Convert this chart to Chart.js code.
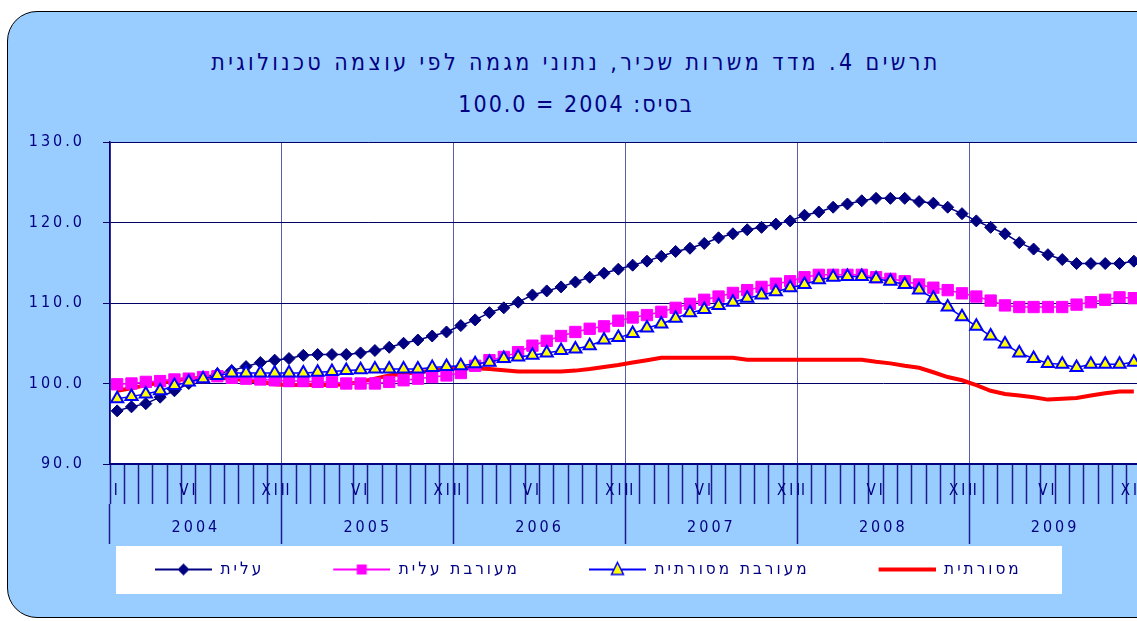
<!DOCTYPE html>
<html lang="he">
<head>
<meta charset="utf-8">
<script src="https://cdn.jsdelivr.net/npm/chart.js@4.4.1/dist/chart.umd.min.js"></script>
<style>
  html, body { margin: 0; padding: 0; background: #fff; overflow: hidden; }
  body { width: 1137px; height: 621px; position: relative; }
  .frame {
    position: absolute; left: 7px; top: 11px; width: 1170px; height: 605px;
    border: 1.5px solid #000; border-radius: 30px; background: #99ccff;
  }
  .title {
    position: absolute; left: 0; width: 1152px; text-align: center; direction: rtl;
    color: #000080; font-family: "Liberation Sans Narrow", "DejaVu Sans Condensed", "Liberation Sans", sans-serif;
    font-size: 23px; line-height: 30px; letter-spacing: 3.4px; white-space: nowrap;
  }
  #chart { position: absolute; left: 0; top: 0; }
</style>
</head>
<body>
<div class="frame"></div>
<div class="title" style="top:47px">תרשים 4. מדד משרות שכיר, נתוני מגמה לפי עוצמה טכנולוגית</div>
<div class="title" style="top:89px; letter-spacing:2px">בסיס: 2004 = 100.0</div>
<canvas id="chart" width="1150" height="621"></canvas>
<script>
const FONT = '"Liberation Sans Narrow", "DejaVu Sans Condensed", "Liberation Sans", sans-serif';
const NAVY = '#000080';

// categories
const years = ['2004', '2005', '2006', '2007', '2008', '2009'];
const monthNames = ['I', '', '', '', '', 'VI', '', '', '', '', '', 'XII'];
const seriesNames = ['עלית', 'מעורבת עלית', 'מעורבת מסורתית', 'מסורתית'];

// monthly values, 2004-2009 (one row per year)
const elite = [
  96.6, 97.1, 97.5, 98.3, 99.1, 100.0, 100.8, 101.2, 101.6, 102.1, 102.6, 102.9,
  103.1, 103.5, 103.6, 103.6, 103.6, 103.8, 104.1, 104.5, 105.0, 105.4, 105.9, 106.4,
  107.2, 107.9, 108.8, 109.4, 110.1, 111.0, 111.5, 112.0, 112.6, 113.2, 113.7, 114.2,
  114.7, 115.2, 115.8, 116.4, 116.8, 117.4, 118.1, 118.6, 119.1, 119.4, 119.8, 120.2,
  120.9, 121.3, 121.9, 122.3, 122.7, 123.0, 123.0, 123.0, 122.6, 122.4, 121.9, 121.1,
  120.2, 119.4, 118.6, 117.5, 116.7, 116.0, 115.4, 114.9, 114.9, 114.9, 114.9, 115.2
];
const mixedElite = [
  99.9, 100.0, 100.2, 100.3, 100.5, 100.6, 100.8, 100.9, 100.7, 100.6, 100.5, 100.4,
  100.3, 100.3, 100.2, 100.2, 100.0, 100.0, 100.0, 100.2, 100.4, 100.6, 100.8, 101.0,
  101.3, 102.2, 102.9, 103.3, 103.9, 104.7, 105.3, 105.9, 106.4, 106.8, 107.1, 107.8,
  108.2, 108.5, 108.9, 109.4, 109.9, 110.4, 110.8, 111.25, 111.6, 112.0, 112.4, 112.7,
  113.2, 113.5, 113.5, 113.5, 113.5, 113.2, 113.0, 112.7, 112.3, 111.9, 111.6, 111.2,
  110.8, 110.3, 109.7, 109.5, 109.5, 109.5, 109.5, 109.8, 110.1, 110.4, 110.7, 110.6
];
const mixedTrad = [
  98.1, 98.4, 98.7, 99.1, 99.75, 100.2, 100.6, 101.0, 101.3, 101.3, 101.3, 101.3,
  101.3, 101.3, 101.4, 101.5, 101.6, 101.7, 101.8, 101.8, 101.8, 101.8, 102.0, 102.1,
  102.2, 102.45, 102.65, 103.1, 103.3, 103.5, 103.8, 104.1, 104.3, 104.7, 105.4, 105.7,
  106.2, 106.9, 107.4, 108.1, 108.8, 109.2, 109.7, 110.1, 110.6, 111.0, 111.4, 111.9,
  112.3, 112.9, 113.2, 113.3, 113.3, 113.0, 112.7, 112.3, 111.6, 110.6, 109.5, 108.3,
  107.1, 105.9, 104.9, 103.8, 103.1, 102.5, 102.4, 102.0, 102.4, 102.4, 102.4, 102.65
];
const traditional = [
  99.1, 99.4, 99.8, 100.1, 100.4, 100.6, 100.7, 100.7, 100.6, 100.4, 100.2, 99.9,
  99.8, 99.8, 99.8, 99.8, 99.9, 100.2, 100.6, 101.0, 101.2, 101.4, 101.6, 101.8,
  101.95, 101.9, 101.8, 101.65, 101.5, 101.5, 101.5, 101.5, 101.6, 101.8, 102.05, 102.3,
  102.6, 102.9, 103.2, 103.2, 103.2, 103.2, 103.2, 103.2, 102.95, 102.95, 102.95, 102.95,
  102.95, 102.95, 102.95, 102.95, 102.95, 102.7, 102.5, 102.2, 101.95, 101.4, 100.8, 100.4,
  99.8, 99.1, 98.7, 98.5, 98.3, 98.0, 98.1, 98.2, 98.5, 98.8, 99.0, 99.0
];

// y axis ticks
const yMin = 90, yMax = 130, yStep = 10;

const monthLabels = years.flatMap(() => monthNames);

// legend symbols: short line with the marker in the middle, blank gap on the left
function makeSymbol(lineColor, lineWidth, marker) {
  const c = document.createElement('canvas');
  c.width = 116; c.height = 20;
  const g = c.getContext('2d');
  g.strokeStyle = lineColor; g.lineWidth = lineWidth;
  g.beginPath(); g.moveTo(59, 10); g.lineTo(116, 10); g.stroke();
  if (marker) marker(g, 87.5, 10);
  return c;
}
const symbols = [
  makeSymbol(NAVY, 2, (g, x, y) => {
    g.fillStyle = NAVY; g.beginPath();
    g.moveTo(x - 6, y); g.lineTo(x, y - 6); g.lineTo(x + 6, y); g.lineTo(x, y + 6);
    g.closePath(); g.fill();
  }),
  makeSymbol('#ff00ff', 2, (g, x, y) => { g.fillStyle = '#ff00ff'; g.fillRect(x - 5, y - 5, 10, 10); }),
  makeSymbol('#0000ff', 2, (g, x, y) => {
    g.fillStyle = '#ffff00'; g.strokeStyle = '#0000ff'; g.lineWidth = 1.5;
    g.beginPath(); g.moveTo(x, y - 7); g.lineTo(x + 6, y + 5); g.lineTo(x - 6, y + 5); g.closePath();
    g.fill(); g.stroke();
  }),
  makeSymbol('#ff0000', 4, null)
];

const spacing = {
  id: 'spacing',
  beforeLayout(chart) { chart.ctx.letterSpacing = '3px'; },
  beforeDraw(chart) { chart.ctx.letterSpacing = '3px'; }
};

// legend starts a bit left of the plot, under the y labels
const legendShift = {
  id: 'legendShift',
  afterLayout(chart) { chart.legend.left = chart.chartArea.left - 24; }
};

const backdrop = {
  id: 'backdrop',
  beforeDraw(chart) {
    const { ctx, chartArea: a } = chart;
    ctx.save();
    ctx.fillStyle = '#ffffff';
    ctx.fillRect(a.left, a.top, a.right - a.left, a.bottom - a.top);
    ctx.fillRect(a.left + 6, a.bottom + 82, 946, 48);
    ctx.restore();
  }
};

Chart.defaults.font.family = FONT;
Chart.defaults.color = NAVY;

new Chart(document.getElementById('chart'), {
  type: 'line',
  data: {
    labels: monthLabels,
    datasets: [
      {
        label: seriesNames[0], data: elite, order: 2,
        borderColor: NAVY, backgroundColor: NAVY, borderWidth: 1.5,
        pointStyle: 'rectRot', pointRadius: 6, pointBorderWidth: 1
      },
      {
        label: seriesNames[1], data: mixedElite, order: 1,
        borderColor: '#ff00ff', backgroundColor: '#ff00ff', borderWidth: 1.5,
        pointStyle: 'rect', pointRadius: 8, pointBorderWidth: 1
      },
      {
        label: seriesNames[2], data: mixedTrad, order: 0,
        borderColor: '#0000ff', borderWidth: 1.5,
        pointStyle: 'triangle', pointRadius: 7, pointBorderWidth: 2,
        pointBackgroundColor: '#ffff00', pointBorderColor: '#0000ff'
      },
      {
        label: seriesNames[3], data: traditional, order: 3,
        borderColor: '#ff0000', borderWidth: 4, pointRadius: 0
      }
    ]
  },
  options: {
    responsive: false,
    animation: false,
    devicePixelRatio: 1,
    events: [],
    layout: { padding: { left: 16, right: 8, top: 142, bottom: 33 } },
    scales: {
      x: {
        position: 'bottom', weight: 0, offset: true,
        grid: {
          offset: true,
          color: (c) => (c.index % 12 === 0 ? '#5c5ca8' : 'rgba(0,0,0,0)'),
          tickColor: '#1c1c8c', tickLength: 40, tickWidth: 1.5, lineWidth: 1
        },
        border: { display: true, color: NAVY, width: 2 },
        ticks: { autoSkip: false, maxRotation: 0, padding: -22, color: NAVY, font: { size: 15 } },
        afterFit: (s) => { s.height = 40; }
      },
      x2: {
        type: 'category', labels: years, position: 'bottom', weight: 1, offset: true,
        grid: { offset: true, drawOnChartArea: false, tickLength: 40, tickColor: '#1c1c8c', tickWidth: 1.5 },
        border: { display: false },
        ticks: { padding: -26, color: NAVY, font: { size: 16 } },
        afterFit: (s) => { s.height = 47; }
      },
      y: {
        min: yMin, max: yMax,
        ticks: { stepSize: yStep, callback: (v) => v.toFixed(1), padding: 18, color: NAVY, font: { size: 16 } },
        grid: { color: '#000066', tickLength: 7, lineWidth: 1 },
        border: { color: NAVY, width: 1.5 },
        afterFit: (s) => { s.width = 94; }
      }
    },
    plugins: {
      title: { display: false },
      tooltip: { enabled: false },
      legend: {
        position: 'bottom', align: 'start',
        labels: {
          usePointStyle: true, pointStyleWidth: 116, padding: 10,
          color: NAVY, font: { size: 17 },
          generateLabels: (chart) => chart.data.datasets.map((ds, i) => ({
            text: ds.label, pointStyle: symbols[i], datasetIndex: i, fontColor: NAVY,
            hidden: false, lineWidth: 0, strokeStyle: 'rgba(0,0,0,0)', fillStyle: 'rgba(0,0,0,0)'
          }))
        }
      }
    }
  },
  plugins: [spacing, legendShift, backdrop]
});
</script>
</body>
</html>
